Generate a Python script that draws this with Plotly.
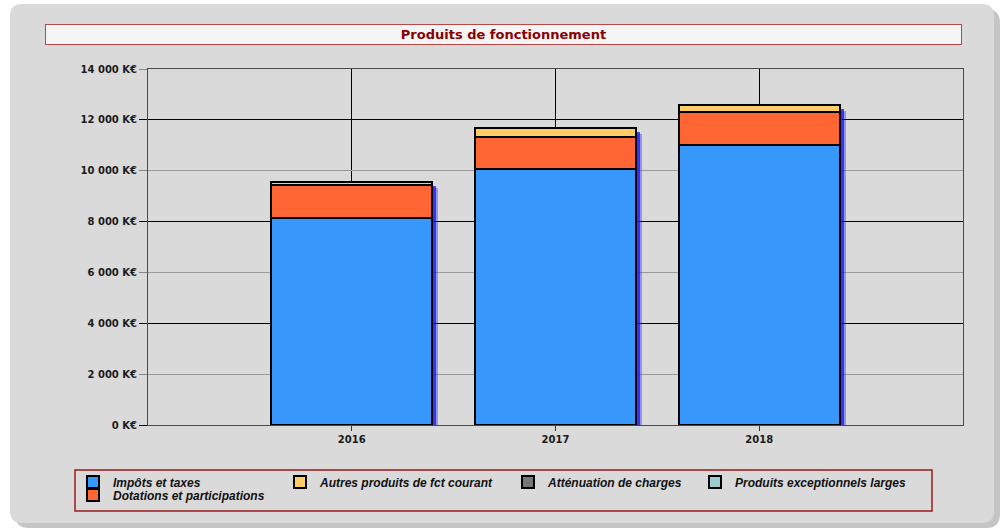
import plotly.graph_objects as go

# ---- data ----
years = ["2016", "2017", "2018"]
impots = [8130, 10070, 11010]
dotations = [1310, 1270, 1290]
autres = [130, 350, 280]
attenuation = [0, 0, 0]
exceptionnels = [0, 0, 0]

series_names = ["Impôts et taxes", "Dotations et participations",
                "Autres produits de fct courant", "Atténuation de charges",
                "Produits exceptionnels larges"]
series_values = [impots, dotations, autres, attenuation, exceptionnels]
series_colors = ["#3797FA", "#FF6633", "#FFCC66", "#777777", "#99CCCC"]
series_legends = ["legend", "legend2", "legend3", "legend4", "legend5"]

y_max = 14000
y_step = 2000
y_major = [0, 4000, 8000, 12000]

W, H = 1005, 528
L, R, T, B = 148, 963, 69, 425


def fx(px):
    return (px - L) / (R - L)


def fy(py):
    return (B - py) / (B - T)


def rounded(x0, y0, x1, y1, r):
    return (f"M{fx(x0 + r)},{fy(y0)} L{fx(x1 - r)},{fy(y0)} "
            f"Q{fx(x1)},{fy(y0)} {fx(x1)},{fy(y0 + r)} "
            f"L{fx(x1)},{fy(y1 - r)} Q{fx(x1)},{fy(y1)} {fx(x1 - r)},{fy(y1)} "
            f"L{fx(x0 + r)},{fy(y1)} Q{fx(x0)},{fy(y1)} {fx(x0)},{fy(y1 - r)} "
            f"L{fx(x0)},{fy(y0 + r)} Q{fx(x0)},{fy(y0)} {fx(x0 + r)},{fy(y0)} Z")


fig = go.Figure()

# shadow (behind the real bars, on the main subplot)
totals = [sum(v) for v in zip(*series_values)]
px_per_unit = (B - T) / y_max
unit_px = (R - L) / 4
bw = 0.79
for shift, alpha in ((6, 0.35), (4, 0.75)):
    fig.add_trace(go.Bar(
        x=years, y=totals, base=-shift / px_per_unit,
        width=bw, offset=-bw / 2 + shift / unit_px,
        marker=dict(color=f"rgba(20,20,255,{alpha})", line=dict(width=0)),
        showlegend=False, hoverinfo="skip", xaxis="x", yaxis="y"))
fig.update_layout(barmode="overlay")

for name, vals, col, lg in zip(series_names, series_values, series_colors, series_legends):
    fig.add_trace(go.Bar(
        x=years, y=vals, name=name, width=bw,
        marker=dict(color=col, line=dict(color="#000000", width=2)),
        xaxis="x2", yaxis="y2", legend=lg))

axis_font = dict(family="DejaVu Sans", size=10, color="#1A1A1A", weight="bold")

fig.update_layout(
    width=W, height=H,
    margin=dict(l=L, r=W - R, t=T, b=H - B),
    paper_bgcolor="#FFFFFF",
    plot_bgcolor="#F9F9F9",
    barmode="stack",
    separators=", ",
    showlegend=True,
    xaxis=dict(type="category", range=[-1, 3], showgrid=True, gridcolor="#000000",
               gridwidth=1, ticks="outside", ticklen=5, tickcolor="#333333",
               showline=True, mirror=True, linecolor="#4A4A4A", linewidth=1,
               tickfont=axis_font, zeroline=False),
    xaxis2=dict(type="category", range=[-1, 3], overlaying="x", visible=False),
    yaxis=dict(range=[0, y_max], tickmode="linear", tick0=0, dtick=y_step,
               tickformat=",d", ticksuffix=" K€", showticksuffix="all",
               showgrid=True, gridcolor="#9A9A9A", gridwidth=1,
               ticks="outside", ticklen=8, tickcolor="#888888",
               showline=True, mirror=True, linecolor="#4A4A4A", linewidth=1,
               tickfont=axis_font, zeroline=False),
    yaxis2=dict(range=[0, y_max], overlaying="y", side="left", tickvals=y_major,
                showticklabels=False, showgrid=True, gridcolor="#000000", gridwidth=1,
                ticks="outside", ticklen=8, tickcolor="#000000", zeroline=False,
                showline=False),
)

leg_font = dict(family="Liberation Sans", size=12, color="#111111",
                weight="bold", style="italic")
leg_pos = {"legend": (113, 482), "legend2": (113, 495), "legend3": (320, 482),
           "legend4": (548, 482), "legend5": (735, 482)}
for key, (tx, ty) in leg_pos.items():
    fig.update_layout({key: dict(x=fx(tx - 40), y=fy(ty), xanchor="left", yanchor="middle",
                                 bgcolor="rgba(0,0,0,0)", borderwidth=0, font=leg_font,
                                 itemclick=False, itemdoubleclick=False)})

shapes = [
    dict(type="path", path=rounded(15, 9, 1000, 528, 14), xref="paper", yref="paper",
         fillcolor="rgba(150,150,150,0.55)", line=dict(width=0), layer="below"),
    dict(type="path", path=rounded(10, 4, 994, 523, 12), xref="paper", yref="paper",
         fillcolor="#DADADA", line=dict(width=0), layer="below"),
    dict(type="rect", xref="paper", yref="paper", x0=fx(75), x1=fx(932),
         y0=fy(511), y1=fy(470), line=dict(color="#9B1B1B", width=1.5),
         fillcolor="rgba(0,0,0,0)", layer="below"),
]
fig.update_layout(shapes=shapes)

fig.add_annotation(
    text="Produits de fonctionnement", xref="paper", yref="paper",
    x=fx(503.5), y=fy(34.5), xanchor="center", yanchor="middle", showarrow=False,
    width=915, height=19, bgcolor="#F5F5F5", bordercolor="#B84848", borderwidth=1,
    borderpad=0,
    font=dict(family="DejaVu Sans", size=13, color="#8B0000", weight="bold"))

fig.write_html("out.html", config={"displayModeBar": False},
               post_script="document.body.style.margin='0';")
